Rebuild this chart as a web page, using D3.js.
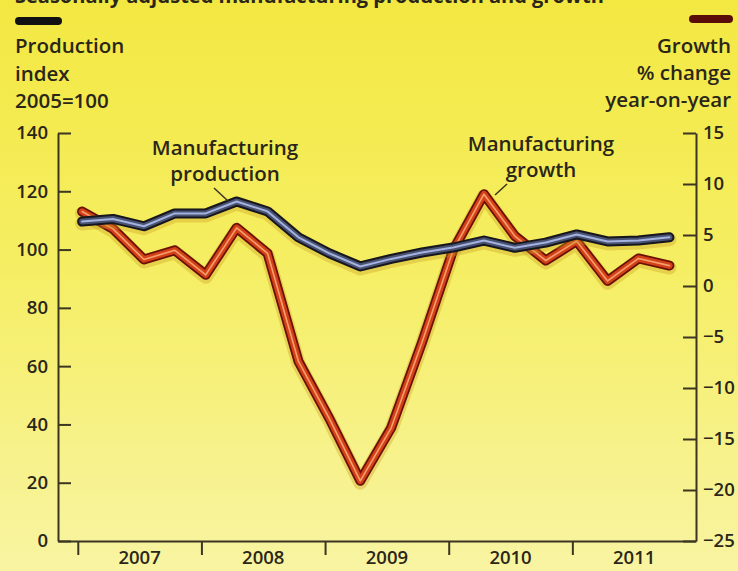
<!DOCTYPE html>
<html>
<head>
<meta charset="utf-8">
<script src="https://cdn.jsdelivr.net/npm/d3@7"></script>
<style>
  body { margin: 0; background: #f5ee66; }
  svg { display: block; font-family: "Open Sans", "Noto Sans", sans-serif; }
  .axis path, .axis line { stroke: #3b3522; stroke-width: 2; }
  .axis text { fill: #2a2618; font-size: 18.5px; font-weight: 600; font-family: "Open Sans", sans-serif; }
  .head { fill: #2a2618; font-size: 20.5px; font-weight: 600; }
</style>
</head>
<body>
<div id="chart"></div>
<script>
var svgWidth = 738;
var svgHeight = 571;

// quarterly data, 2007 Q1 - 2011 Q4
var quarters = ["2007Q1", "2007Q2", "2007Q3", "2007Q4", "2008Q1", "2008Q2", "2008Q3", "2008Q4",
  "2009Q1", "2009Q2", "2009Q3", "2009Q4", "2010Q1", "2010Q2", "2010Q3", "2010Q4",
  "2011Q1", "2011Q2", "2011Q3", "2011Q4"];
// production index, 2005=100 (left axis)
var production = [109.6, 110.5, 108, 112.4, 112.4, 116.5, 113.1, 104.2, 98.7, 94.2,
  96.8, 99, 100.7, 103.1, 100.6, 102.4, 105.2, 102.8, 103.1, 104.2];
// growth, % change year-on-year (right axis)
var growth = [7.3, 5.6, 2.6, 3.5, 1.1, 5.7, 3.2, -7.4, -13, -19.1,
  -13.9, -5.5, 3.5, 9.0, 4.9, 2.5, 4.4, 0.5, 2.7, 2.0];

var years = [2007, 2008, 2009, 2010, 2011];
var leftTicks = [0, 20, 40, 60, 80, 100, 120, 140];
var rightTicks = [-25, -20, -15, -10, -5, 0, 5, 10, 15];

var margin = { top: 133, right: 42, bottom: 30, left: 58 };
var width = svgWidth - margin.left - margin.right;
var height = 541 - margin.top;

var svg = d3.select("#chart")
  .append("svg")
  .attr("width", svgWidth)
  .attr("height", svgHeight);

var defs = svg.append("defs");
var grad = defs.append("linearGradient")
  .attr("id", "bg")
  .attr("x1", 0).attr("y1", 0).attr("x2", 0).attr("y2", 1);
grad.append("stop").attr("offset", "0%").attr("stop-color", "#f3e842");
grad.append("stop").attr("offset", "45%").attr("stop-color", "#f5ee62");
grad.append("stop").attr("offset", "100%").attr("stop-color", "#f8f4a2");

svg.append("rect")
  .attr("width", svgWidth)
  .attr("height", svgHeight)
  .attr("fill", "url(#bg)");

var chartGroup = svg.append("g")
  .attr("transform", `translate(${margin.left}, ${margin.top})`);

function quarterToYear(q) {
  return +q.slice(0, 4) + (+q.slice(5) - 1) / 4 + 0.035;
}

var xScale = d3.scaleLinear()
  .domain([2006.84, 2012.0])
  .range([0, width]);

var yLeft = d3.scaleLinear()
  .domain([0, 140])
  .range([height, 0]);

var yRight = d3.scaleLinear()
  .domain([-25, 15])
  .range([height, 0]);

// axes
chartGroup.append("g")
  .classed("axis", true)
  .call(d3.axisLeft(yLeft).tickValues(leftTicks).tickSize(-13).tickSizeOuter(0).tickPadding(10));

chartGroup.append("g")
  .classed("axis", true)
  .attr("transform", `translate(${width}, 0)`)
  .call(d3.axisRight(yRight).tickValues(rightTicks).tickSize(-13).tickSizeOuter(0).tickPadding(7));

chartGroup.append("g")
  .classed("axis", true)
  .attr("transform", `translate(0, ${height})`)
  .call(d3.axisBottom(xScale).tickValues(years).tickSize(14).tickSizeOuter(0).tickFormat(""));

chartGroup.append("g")
  .selectAll("text")
  .data(years)
  .enter()
  .append("text")
  .attr("x", d => xScale(d + 0.5))
  .attr("y", height + 23)
  .attr("text-anchor", "middle")
  .attr("fill", "#2a2618")
  .style("font-size", "18.5px")
  .style("font-weight", 600)
  .text(d => d);

// lines
var prodLine = d3.line()
  .x((d, i) => xScale(quarterToYear(quarters[i])))
  .y(d => yLeft(d));

var growthLine = d3.line()
  .x((d, i) => xScale(quarterToYear(quarters[i])))
  .y(d => yRight(d));

function drawDouble(data, lineFn, styles) {
  var g = chartGroup.append("g");
  styles.forEach(function(s) {
    g.append("path")
      .datum(data)
      .attr("d", lineFn)
      .attr("fill", "none")
      .attr("stroke", s.color)
      .attr("stroke-width", s.w)
      .attr("stroke-opacity", s.op || 1)
      .attr("transform", s.dy ? `translate(0, ${s.dy})` : null)
      .attr("stroke-linejoin", "round")
      .attr("stroke-linecap", "round");
  });
}

drawDouble(growth, growthLine, [
  { color: "#c99a1c", w: 14, op: 0.35, dy: 2 },
  { color: "#6a1006", w: 10 },
  { color: "#d4401a", w: 6.5 },
  { color: "#f4a06a", w: 1.6 }
]);

drawDouble(production, prodLine, [
  { color: "#c99a1c", w: 14, op: 0.35, dy: 2 },
  { color: "#15161e", w: 10 },
  { color: "#4a5272", w: 6 },
  { color: "#a4b2e0", w: 2 }
]);

// annotations
var notes = svg.append("g").attr("class", "head").attr("text-anchor", "middle");
notes.append("text").attr("x", 225).attr("y", 155).text("Manufacturing");
notes.append("text").attr("x", 225).attr("y", 181).text("production");
notes.append("text").attr("x", 541).attr("y", 151).text("Manufacturing");
notes.append("text").attr("x", 541).attr("y", 177).text("growth");

svg.append("line")
  .attr("x1", 214).attr("y1", 188).attr("x2", 228).attr("y2", 201)
  .attr("stroke", "#3b3522").attr("stroke-width", 1.5);
svg.append("line")
  .attr("x1", 507).attr("y1", 184).attr("x2", 495).attr("y2", 195)
  .attr("stroke", "#3b3522").attr("stroke-width", 1.5);

// header
svg.append("text")
  .attr("x", 15).attr("y", 3)
  .attr("fill", "#2a2618")
  .style("font-size", "20px")
  .style("font-weight", "bold")
  .text("Seasonally adjusted manufacturing production and growth");

svg.append("rect")
  .attr("x", 15).attr("y", 17).attr("width", 47).attr("height", 8).attr("rx", 4)
  .attr("fill", "#111114");
svg.append("rect")
  .attr("x", 689).attr("y", 15).attr("width", 44).attr("height", 8).attr("rx", 4)
  .attr("fill", "#5a0c08");

var leftHead = svg.append("g").attr("class", "head");
["Production", "index", "2005=100"].forEach(function(t, i) {
  leftHead.append("text").attr("x", 15).attr("y", 53 + i * 27.5).text(t);
});
var rightHead = svg.append("g").attr("class", "head").attr("text-anchor", "end");
["Growth", "% change", "year-on-year"].forEach(function(t, i) {
  rightHead.append("text").attr("x", 731).attr("y", 53 + i * 27).text(t);
});
</script>
</body>
</html>
